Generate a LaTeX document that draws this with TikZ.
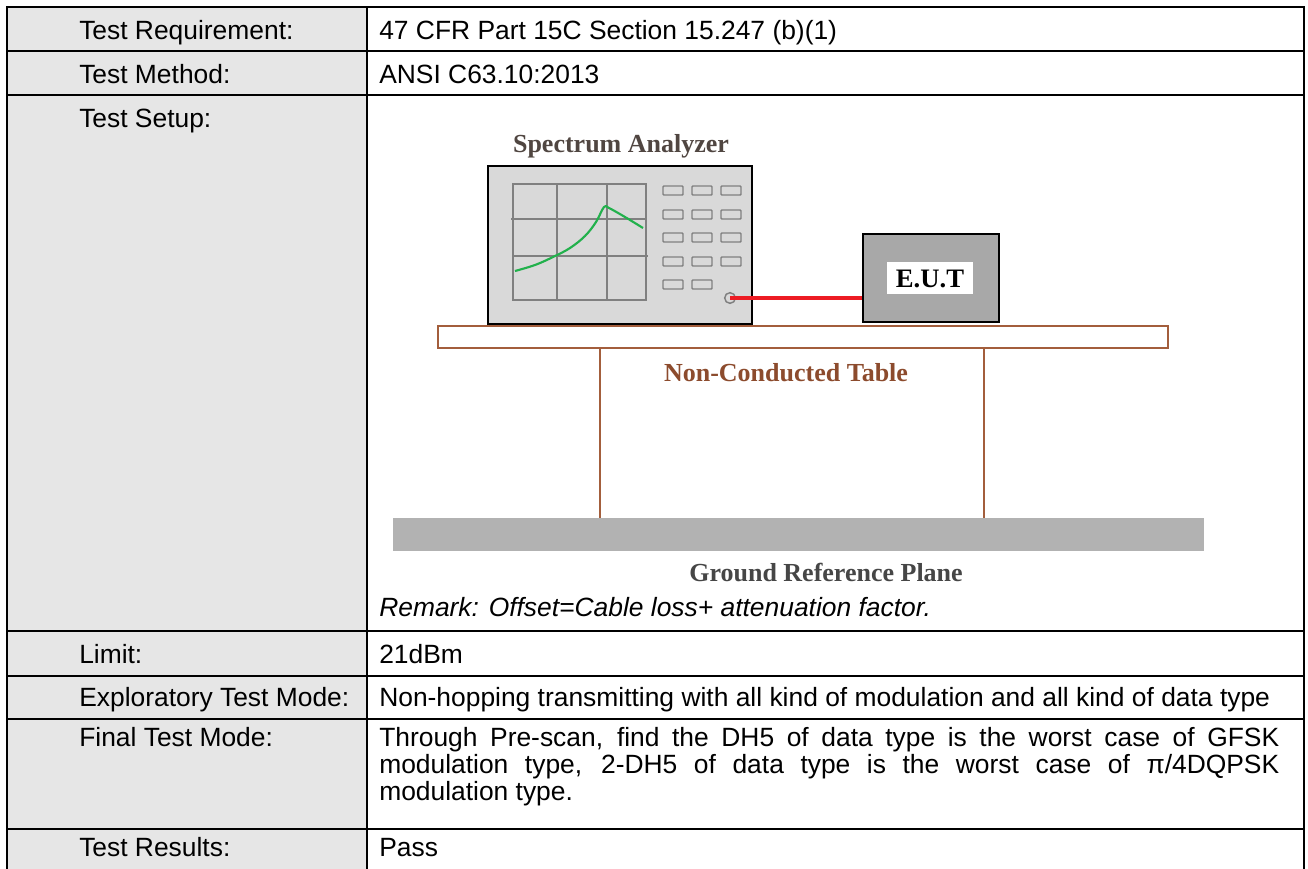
\documentclass[tikz,border=0pt]{standalone}
\usepackage{fontspec}
\setmainfont{Liberation Sans}
\newfontfamily\dgserif{Liberation Serif}
\newcommand\tbfont{\fontsize{19.8pt}{20.4pt}\selectfont}
\newcommand\dgfont{\dgserif\bfseries\fontsize{19.5pt}{21pt}\selectfont}
\definecolor{lblgray}{RGB}{230,230,230}
\definecolor{tblbrown}{RGB}{163,94,60}
\definecolor{txtbrown}{RGB}{140,75,45}
\definecolor{spectxt}{RGB}{80,70,65}
\definecolor{gndtxt}{RGB}{70,70,70}
\definecolor{gndfill}{RGB}{178,178,178}
\definecolor{anafill}{RGB}{217,217,217}
\definecolor{gridgray}{RGB}{128,128,128}
\definecolor{eutfill}{RGB}{168,168,168}
\definecolor{cablered}{RGB}{237,28,36}
\definecolor{tracegreen}{RGB}{34,177,76}
\begin{document}
\begin{tikzpicture}[x=0.75pt,y=-0.75pt,
  tline/.style={line width=1.3pt},
  oline/.style={line width=1.9pt},
  lbl/.style={anchor=base west, inner sep=0pt, font=\tbfont},
  dtxt/.style={inner sep=0pt, font=\dgfont, anchor=base},
  gridln/.style={draw=gridgray, line width=1.2pt},
  btn/.style={draw=gridgray, fill=anafill, line width=1.1pt, rounded corners=0.6pt},
  brownln/.style={draw=tblbrown, line width=1.7pt},
  cable/.style={draw=cablered, line width=3.6pt}]
\useasboundingbox (0,0) rectangle (1308,868);
\clip (0,0) rectangle (1308,868);
\fill[white] (0,0) rectangle (1308,868);
% table background
\fill[lblgray] (7,7) rectangle (367,880);
% row lines
\foreach \yy in {51,95,631,676,719,829} \draw[tline] (7,\yy) -- (1304,\yy);
\draw[tline] (367,7) -- (367,880);
\draw[oline] (7,880) -- (7,7) -- (1304,7) -- (1304,880);
% labels
\node[lbl] (l1) at (79,39) {Test Requirement:};
\node[lbl] (l2) at (79,83) {Test Method:};
\node[lbl] (l3) at (79,127) {Test Setup:};
\node[lbl] (l4) at (79,663) {Limit:};
\node[lbl] (l5) at (79,706) {Exploratory Test Mode:};
\node[lbl] (l6) at (79,746) {Final Test Mode:};
\node[lbl] (l7) at (79,856) {Test Results:};
% values
\node[lbl] (v1) at (379,39) {47 CFR Part 15C Section 15.247 (b)(1)};
\node[lbl] (v2) at (379,83) {ANSI C63.10:2013};
\node[lbl] (v3) at (379,616) {\itshape Remark: Offset=Cable loss+ attenuation factor.};
\node[lbl] (v4) at (379,663) {21dBm};
\node[lbl] (v5) at (379,706) {Non-hopping transmitting with all kind of modulation and all kind of data type};
\node[inner sep=0pt, anchor=north west, font=\tbfont, text width=675pt, align=justify] (v6) at (379,727)
  {Through Pre-scan, find the DH5 of data type is the worst case of GFSK\linebreak modulation type, 2-DH5 of data type is the worst case of π/4DQPSK\linebreak modulation type.};
\node[lbl] (v7) at (379,856) {Pass};
% ---- diagram ----
\node[dtxt, text=spectxt] (sa) at (621,152) {Spectrum Analyzer};
% analyzer body
\draw[fill=anafill, line width=2.2pt] (488,166) rectangle (752,324);
\coordinate (ana) at (620,245);
% screen grid
\draw[gridln] (513,184) rectangle (646,300);
\draw[gridln] (557,184) -- (557,300);
\draw[gridln] (607,184) -- (607,300);
\draw[gridln] (511,219) -- (646,219);
\draw[gridln] (513,256) -- (648,256);
% trace
\draw[tracegreen, line width=1.6pt, line join=round] plot[smooth, tension=0.6] coordinates
  {(515,271) (535,265) (553,257) (570,248) (585,236) (596,222) (604,207) (609,208) (625,217) (643,228)};
% buttons
\foreach \bx in {663,692,721} {
  \foreach \by in {186,210,233,257} {
    \draw[btn] (\bx,\by) rectangle ++(20,9);
  }
}
\foreach \bx in {663,692} \draw[btn] (\bx,280) rectangle ++(20,9);
% port
\node[circle, draw=gridgray, line width=1.1pt, minimum size=8pt, inner sep=0pt] (port) at (730,298) {};
% EUT
\node[draw=black, fill=eutfill, line width=2.2pt, minimum width=102pt, minimum height=66pt, inner sep=0pt] (eut) at (931,278) {};
\node[fill=white, minimum width=64pt, minimum height=24pt, inner sep=0pt] (eutlbl) at (930,278) {};
\node[dtxt, text=black, font=\dgserif\bfseries\fontsize{20pt}{21pt}\selectfont] (euttxt) at (930,287) {E.U.T};
% cable
\draw[cable] (port.center) -- (port.center -| eut.west);
% table
\draw[brownln, fill=white] (438,326) rectangle (1168,348);
\coordinate (legA) at (600,348);
\coordinate (legB) at (984,348);
\fill[gndfill] (393,518) rectangle (1204,551);
\draw[brownln, line width=2pt] (legA) -- (600,518);
\draw[brownln, line width=2pt] (legB) -- (984,518);
\node[dtxt, text=txtbrown] (nct) at (786,381) {Non-Conducted Table};
\node[dtxt, text=gndtxt] (grp) at (826,581) {Ground Reference Plane};
\end{tikzpicture}
\end{document}
